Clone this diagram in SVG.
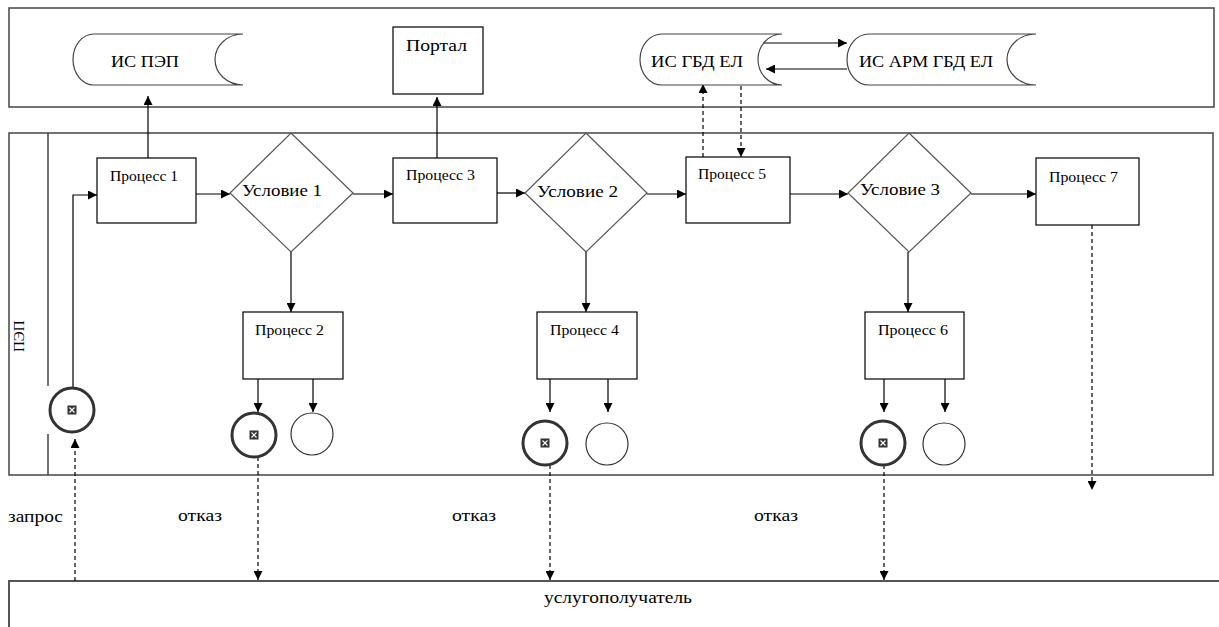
<svg xmlns="http://www.w3.org/2000/svg" width="1219" height="627" viewBox="0 0 1219 627">
<style>
  .t { font-family: "Liberation Serif", "Times New Roman", serif; fill: #000; }
  .p { font-size: 15px; }
  .c { font-size: 17px; }
  .s { font-size: 17px; }
  .l { font-size: 16px; }
  .box { fill: #fff; stroke: #000; stroke-width: 1.2; }
  .dia { fill: #fff; stroke: #555; stroke-width: 1.2; }
  .frame { fill: none; stroke: #444; stroke-width: 1.5; }
  .store { fill: #fff; stroke: #444; stroke-width: 1.2; }
  .ln { fill: none; stroke: #000; stroke-width: 1.2; }
  .arr { fill: none; stroke: #000; stroke-width: 1.2; marker-end: url(#ah); }
  .dash { fill: none; stroke: #000; stroke-width: 1.2; stroke-dasharray: 4 3; marker-end: url(#ah); }
  .end { fill: #fff; stroke: #333; stroke-width: 3; }
  .plain { fill: #fff; stroke: #333; stroke-width: 1.2; }
</style>
<defs>
  <marker id="ah" viewBox="0 0 10 10" refX="10" refY="5" markerWidth="9" markerHeight="9" markerUnits="userSpaceOnUse" orient="auto">
    <path d="M0,0 L10,5 L0,10 z" fill="#000"/>
  </marker>
  <g id="icon">
    <rect x="-4.5" y="-4.5" width="9" height="9" fill="#333"/>
    <path d="M-2.5,-2.5 L2.5,2.5 M2.5,-2.5 L-2.5,2.5" stroke="#fff" stroke-width="1.2"/>
  </g>
</defs>
<rect width="1219" height="627" fill="#fff"/>

<!-- frames -->
<g id="frames">
  <rect class="frame" x="9" y="8" width="1205" height="99"/>
  <rect class="frame" x="9" y="133" width="1204" height="342"/>
  <line class="frame" x1="48" y1="133" x2="48" y2="386"/>
  <line class="frame" x1="48" y1="434" x2="48" y2="475"/>
  <path d="M9,640 L9,581 L1230,581" fill="none" stroke="#555" stroke-width="2"/>
  <text class="t" font-size="15" transform="translate(24,352) rotate(-90)">ПЭП</text>
</g>

<!-- connectors -->
<g id="connectors">
  <line class="arr" x1="148" y1="158" x2="148" y2="96"/>
  <line class="arr" x1="437" y1="158" x2="437" y2="97"/>
  <line class="arr" x1="762" y1="43" x2="847" y2="43"/>
  <line class="arr" x1="847" y1="69" x2="766" y2="69"/>
  <line class="dash" x1="703" y1="157" x2="703" y2="84"/>
  <line class="dash" x1="741" y1="86" x2="741" y2="157"/>
  <polyline class="arr" points="73,388 73,195 97,195"/>
  <line class="arr" x1="188" y1="194" x2="230" y2="194"/>
  <line class="arr" x1="353" y1="194" x2="393" y2="194"/>
  <line class="arr" x1="497" y1="193" x2="525" y2="193"/>
  <line class="arr" x1="647" y1="194" x2="686" y2="194"/>
  <line class="arr" x1="790" y1="194" x2="848" y2="194"/>
  <line class="arr" x1="971" y1="194" x2="1036" y2="194"/>
  <line class="arr" x1="291" y1="252" x2="291" y2="312"/>
  <line class="arr" x1="586" y1="252" x2="586" y2="312"/>
  <line class="arr" x1="908" y1="252" x2="908" y2="312"/>
  <line class="arr" x1="258" y1="379" x2="258" y2="412"/>
  <line class="arr" x1="313" y1="379" x2="313" y2="412"/>
  <line class="arr" x1="550" y1="379" x2="550" y2="412"/>
  <line class="arr" x1="608" y1="379" x2="608" y2="412"/>
  <line class="arr" x1="884" y1="379" x2="884" y2="412"/>
  <line class="arr" x1="945" y1="379" x2="945" y2="412"/>
  <line class="dash" x1="1092" y1="225" x2="1092" y2="490"/>
  <line class="dash" x1="75" y1="581" x2="75" y2="439"/>
  <line class="dash" x1="258" y1="457" x2="258" y2="580"/>
  <line class="dash" x1="550" y1="465" x2="550" y2="580"/>
  <line class="dash" x1="884" y1="465" x2="884" y2="580"/>
</g>

<!-- top lane nodes -->
<g id="is-pep">
  <path class="store" d="M94,34 L243,34 A28,25.5 0 0 0 243,85 L94,85 A21,25.5 0 0 1 94,34 Z"/>
  <text class="t s" x="111" y="67" textLength="68" lengthAdjust="spacingAndGlyphs">ИС ПЭП</text>
</g>
<g id="portal">
  <rect class="box" x="393" y="27" width="90" height="67"/>
  <text class="t s" x="406" y="51" textLength="61" lengthAdjust="spacingAndGlyphs">Портал</text>
</g>
<g id="is-gbd">
  <path class="store" d="M662,34 L782,34 A24,25.5 0 0 0 782,85 L662,85 A22,25.5 0 0 1 662,34 Z"/>
  <text class="t s" x="651" y="67" textLength="92" lengthAdjust="spacingAndGlyphs">ИС ГБД ЕЛ</text>
</g>
<g id="is-arm">
  <path class="store" d="M869,34 L1036,34 A29,25.5 0 0 0 1036,85 L869,85 A22,25.5 0 0 1 869,34 Z"/>
  <text class="t s" x="859" y="67" textLength="134" lengthAdjust="spacingAndGlyphs">ИС АРМ ГБД ЕЛ</text>
</g>

<!-- process nodes -->
<g id="p1"><rect class="box" x="97" y="158" width="99" height="65"/><text class="t p" x="110" y="181" textLength="68" lengthAdjust="spacingAndGlyphs">Процесс 1</text></g>
<g id="c1"><polygon class="dia" points="291,133 353,193 291,252 230,193"/><text class="t c" x="242" y="196" textLength="80" lengthAdjust="spacingAndGlyphs">Условие 1</text></g>
<g id="p3"><rect class="box" x="393" y="158" width="104" height="65"/><text class="t p" x="406" y="180" textLength="69" lengthAdjust="spacingAndGlyphs">Процесс 3</text></g>
<g id="c2"><polygon class="dia" points="586,133 647,193 586,252 525,193"/><text class="t c" x="537" y="197" textLength="81" lengthAdjust="spacingAndGlyphs">Условие 2</text></g>
<g id="p5"><rect class="box" x="686" y="157" width="104" height="66"/><text class="t p" x="698" y="179" textLength="68" lengthAdjust="spacingAndGlyphs">Процесс 5</text></g>
<g id="c3"><polygon class="dia" points="909,133 971,193 909,252 848,193"/><text class="t c" x="860" y="195" textLength="80" lengthAdjust="spacingAndGlyphs">Условие 3</text></g>
<g id="p7"><rect class="box" x="1036" y="158" width="103" height="67"/><text class="t p" x="1049" y="182" textLength="69" lengthAdjust="spacingAndGlyphs">Процесс 7</text></g>
<g id="p2"><rect class="box" x="243" y="312" width="100" height="67"/><text class="t p" x="255" y="335" textLength="69" lengthAdjust="spacingAndGlyphs">Процесс 2</text></g>
<g id="p4"><rect class="box" x="537" y="312" width="100" height="67"/><text class="t p" x="550" y="335" textLength="69" lengthAdjust="spacingAndGlyphs">Процесс 4</text></g>
<g id="p6"><rect class="box" x="865" y="312" width="99" height="67"/><text class="t p" x="878" y="335" textLength="70" lengthAdjust="spacingAndGlyphs">Процесс 6</text></g>

<!-- events -->
<g id="start"><circle class="end" cx="72" cy="410" r="22"/><use href="#icon" x="72" y="410"/></g>
<g id="end1"><circle class="end" cx="254" cy="435" r="22"/><use href="#icon" x="254" y="435"/></g>
<g id="circ1"><circle class="plain" cx="312" cy="434" r="21"/></g>
<g id="end2"><circle class="end" cx="545" cy="443" r="22"/><use href="#icon" x="545" y="443"/></g>
<g id="circ2"><circle class="plain" cx="607" cy="444" r="21"/></g>
<g id="end3"><circle class="end" cx="883" cy="443" r="22"/><use href="#icon" x="883" y="443"/></g>
<g id="circ3"><circle class="plain" cx="944" cy="444" r="21"/></g>

<!-- labels -->
<g id="labels">
  <text class="t l" x="8" y="522" textLength="55" lengthAdjust="spacingAndGlyphs">запрос</text>
  <text class="t l" x="178" y="521" textLength="44" lengthAdjust="spacingAndGlyphs">отказ</text>
  <text class="t l" x="452" y="521" textLength="44" lengthAdjust="spacingAndGlyphs">отказ</text>
  <text class="t l" x="754" y="521" textLength="44" lengthAdjust="spacingAndGlyphs">отказ</text>
</g>
<g id="recipient">
  <text class="t l" x="544" y="603" textLength="148" lengthAdjust="spacingAndGlyphs">услугополучатель</text>
</g>
</svg>
